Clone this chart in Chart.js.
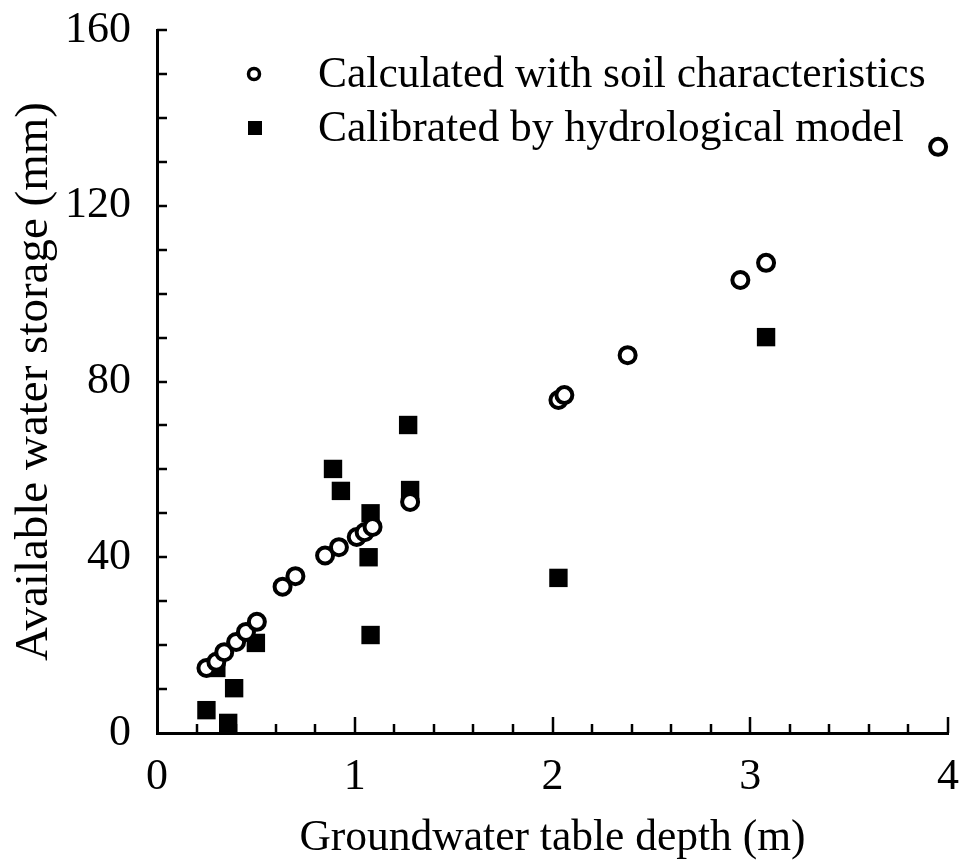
<!DOCTYPE html>
<html>
<head>
<meta charset="utf-8">
<script src="https://cdn.jsdelivr.net/npm/chart.js@4/dist/chart.umd.min.js"></script>
<style>
  html, body { margin: 0; padding: 0; background: #fff; }
  #wrap { width: 961px; height: 865px; }
</style>
</head>
<body>
<div id="wrap"><canvas id="c" width="961" height="865"></canvas></div>
<script>
// Calculated with soil characteristics (depth m, storage mm)
const calcDepth   = [0.25, 0.30, 0.34, 0.40, 0.45, 0.505, 0.635, 0.70, 0.85, 0.92, 1.01, 1.05, 1.09, 1.28, 2.03, 2.06, 2.38, 2.95, 3.08, 3.95];
const calcStorage = [14.8, 16.2, 18.4, 20.7, 23.0, 25.3, 33.3, 35.7, 40.4, 42.3, 44.6, 45.7, 46.9, 52.6, 75.8, 76.9, 86.0, 103.1, 107.0, 133.4];
// Calibrated by hydrological model
const calibDepth   = [0.25, 0.36, 0.39, 0.30, 0.50, 0.89, 0.93, 1.08, 1.07, 1.08, 1.27, 1.28, 2.03, 3.08];
const calibStorage = [5.2, 2.3, 10.2, 14.8, 20.5, 60.1, 55.1, 50.0, 40.0, 22.3, 70.1, 55.3, 35.3, 90.1];

const xTickLabels = ['0', '1', '2', '3', '4'];
const yTickLabels = ['0', '40', '80', '120', '160'];
const seriesLabels = ['Calculated with soil characteristics', 'Calibrated by hydrological model'];

const FONT = "'Liberation Serif', 'Times New Roman', serif";

const toPts = (xs, ys) => xs.map((x, i) => ({ x: x, y: ys[i] }));

const innerTicks = {
  id: 'innerTicks',
  afterDraw(chart) {
    const { ctx, scales: { x, y } } = chart;
    ctx.save();
    ctx.strokeStyle = '#000';
    ctx.lineWidth = 2.5;
    const y0 = y.getPixelForValue(0);
    for (let i = 1; i <= 20; i++) {
      const v = i * 0.2;
      const px = Math.round(x.getPixelForValue(v));
      const len = (i % 5 === 0) ? 16 : 9;
      ctx.beginPath();
      ctx.moveTo(px, y0);
      ctx.lineTo(px, y0 - len);
      ctx.stroke();
    }
    const x0 = x.getPixelForValue(0);
    for (let i = 1; i <= 16; i++) {
      const v = i * 10;
      const py = Math.round(y.getPixelForValue(v));
      ctx.beginPath();
      ctx.moveTo(x0, py);
      ctx.lineTo(x0 + 10, py);
      ctx.stroke();
    }
    ctx.restore();
  }
};

const customLegend = {
  id: 'customLegend',
  afterDraw(chart) {
    const { ctx } = chart;
    ctx.save();
    ctx.font = "43.5px " + FONT;
    ctx.textBaseline = 'middle';
    ctx.textAlign = 'left';
    const rows = [
      { y: 74, style: 'circle' },
      { y: 128, style: 'rect' }
    ];
    rows.forEach((row, i) => {
      ctx.beginPath();
      if (row.style === 'circle') {
        ctx.fillStyle = '#fff';
        ctx.strokeStyle = '#000';
        ctx.lineWidth = 3.5;
        ctx.arc(254, row.y, 5.5, 0, Math.PI * 2);
        ctx.fill();
        ctx.stroke();
      } else {
        const s = 14;
        ctx.fillStyle = '#000';
        ctx.fillRect(255 - s / 2, row.y - s / 2, s, s);
      }
      ctx.fillStyle = '#000';
      ctx.fillText(chart.data.datasets[i].label, 318, row.y + 2);
    });
    ctx.restore();
  }
};

new Chart(document.getElementById('c'), {
  type: 'scatter',
  data: {
    datasets: [
      {
        label: seriesLabels[0],
        data: toPts(calcDepth, calcStorage),
        pointStyle: 'circle',
        pointRadius: 8,
        pointHoverRadius: 8,
        borderWidth: 4,
        borderColor: '#000',
        backgroundColor: '#fff'
      },
      {
        label: seriesLabels[1],
        data: toPts(calibDepth, calibStorage),
        pointStyle: 'rect',
        pointRadius: 13,
        pointHoverRadius: 13,
        borderWidth: 0,
        borderColor: '#000',
        backgroundColor: '#000'
      }
    ]
  },
  options: {
    responsive: false,
    animation: false,
    clip: false,
    layout: { padding: { top: 30, right: 11, left: 0, bottom: 0 } },
    plugins: { legend: { display: false }, tooltip: { enabled: false } },
    scales: {
      x: {
        type: 'linear',
        min: 0, max: 4,
        afterFit(s) { s.height = 132; s.paddingRight = 0; s.paddingLeft = 0; },
        grid: { display: false },
        border: { display: true, color: '#000', width: 3 },
        ticks: {
          stepSize: 1,
          padding: 10,
          color: '#000',
          font: { family: FONT, size: 44 },
          maxRotation: 0,
          callback: (v) => Number.isInteger(v) ? xTickLabels[v] : ''
        },
        title: {
          display: true,
          text: 'Groundwater table depth (m)',
          color: '#000',
          font: { family: FONT, size: 43.5 },
          padding: { top: 0, bottom: 0 }
        }
      },
      y: {
        type: 'linear',
        min: 0, max: 160,
        afterFit(s) { s.width = 157; s.paddingTop = 0; s.paddingBottom = 0; },
        grid: { display: false },
        border: { display: true, color: '#000', width: 3 },
        ticks: {
          stepSize: 40,
          padding: 18,
          color: '#000',
          font: { family: FONT, size: 44 },
          callback: (v) => yTickLabels[v / 40]
        },
        title: {
          display: true,
          text: 'Available water storage (mm)',
          color: '#000',
          font: { family: FONT, size: 47 },
          padding: { top: 6, bottom: 0 }
        }
      }
    }
  },
  plugins: [innerTicks, customLegend]
});
</script>
</body>
</html>
